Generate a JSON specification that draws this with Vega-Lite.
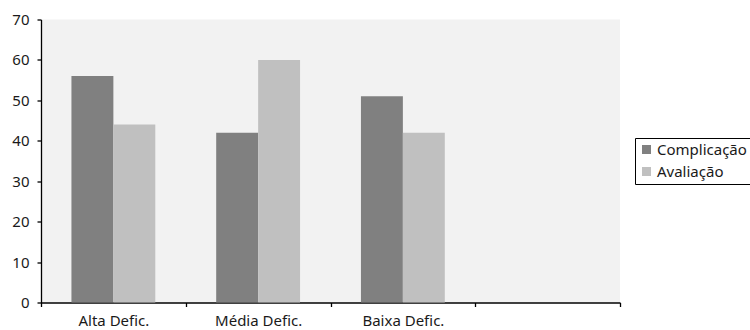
{
  "$schema": "https://vega.github.io/schema/vega-lite/v6.json",
  "autosize": {"type": "none"},
  "padding": {"left": 41, "top": 19.5, "right": 130, "bottom": 27.5},
  "width": 579,
  "height": 283,
  "background": "white",
  "config": {
    "view": {"fill": "#f2f2f2", "stroke": null},
    "font": "Noto Sans"
  },
  "data": {
    "values": [
      {"grupo": "Alta Defic.", "serie": "Complicação", "valor": 56},
      {"grupo": "Alta Defic.", "serie": "Avaliação", "valor": 44},
      {"grupo": "Média Defic.", "serie": "Complicação", "valor": 42},
      {"grupo": "Média Defic.", "serie": "Avaliação", "valor": 60},
      {"grupo": "Baixa Defic.", "serie": "Complicação", "valor": 51},
      {"grupo": "Baixa Defic.", "serie": "Avaliação", "valor": 42}
    ]
  },
  "mark": {"type": "bar"},
  "encoding": {
    "x": {
      "field": "grupo",
      "type": "nominal",
      "sort": null,
      "scale": {
        "domain": ["Alta Defic.", "Média Defic.", "Baixa Defic.", " "],
        "paddingInner": 0,
        "paddingOuter": 0
      },
      "axis": {
        "title": null,
        "labelAngle": 0,
        "tickBand": "extent",
        "domainColor": "black",
        "domainWidth": 1.3,
        "tickColor": "black",
        "tickWidth": 1.3,
        "tickSize": 4,
        "labelFontSize": 15,
        "labelColor": "#1a1a1a",
        "labelPadding": 7,
        "grid": false
      }
    },
    "xOffset": {
      "field": "serie",
      "type": "nominal",
      "sort": ["Complicação", "Avaliação"],
      "scale": {"paddingInner": 0, "paddingOuter": 0.726}
    },
    "y": {
      "field": "valor",
      "type": "quantitative",
      "scale": {"domain": [0, 70], "nice": false},
      "axis": {
        "title": null,
        "values": [0, 10, 20, 30, 40, 50, 60, 70],
        "grid": false,
        "domainColor": "black",
        "domainWidth": 1.3,
        "tickColor": "black",
        "tickWidth": 1.3,
        "tickSize": 4,
        "labelFontSize": 15,
        "labelColor": "#1a1a1a",
        "labelPadding": 8
      }
    },
    "color": {
      "field": "serie",
      "type": "nominal",
      "sort": ["Complicação", "Avaliação"],
      "scale": {"domain": ["Complicação", "Avaliação"], "range": ["#808080", "#c0c0c0"]},
      "legend": {
        "title": null,
        "orient": "none",
        "legendX": 594,
        "legendY": 118.5,
        "direction": "vertical",
        "strokeColor": "black",
        "fillColor": "white",
        "padding": 4,
        "symbolType": "square",
        "symbolSize": 81,
        "symbolStrokeWidth": 0,
        "symbolOpacity": 1,
        "labelFontSize": 15,
        "labelColor": "#1a1a1a",
        "labelOffset": 3,
        "rowPadding": 6
      }
    }
  }
}
